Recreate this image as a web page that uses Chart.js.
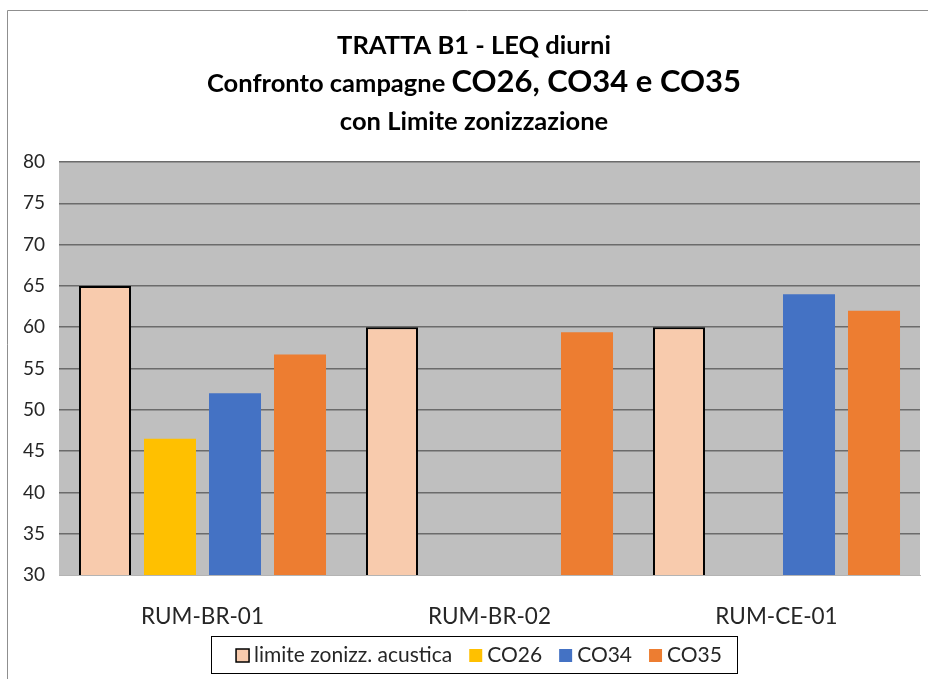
<!doctype html>
<html>
<head>
<meta charset="utf-8">
<title>TRATTA B1 - LEQ diurni</title>
<script src="https://cdn.jsdelivr.net/npm/chart.js@4/dist/chart.umd.min.js"></script>
<style>
	html, body { margin: 0; padding: 0; background: #fff; }
	#holder { width: 928px; height: 679px; position: relative; }
</style>
</head>
<body>
<div id="holder"><canvas id="chart"></canvas></div>
<script>
	// data
	const categories = ['RUM-BR-01', 'RUM-BR-02', 'RUM-CE-01'];
	const limiteZonizz = [65, 60, 60];
	const co26 = [46.5, null, null];
	const co34 = [52, null, 64];
	const co35 = [56.7, 59.4, 62];
	const yMin = 30, yMax = 80, yStep = 5;

	const titleLines = [
		[['TRATTA B1 - LEQ diurni', 25.5]],
		[['Confronto campagne ', 25.5], ['CO26, CO34 e CO35', 31]],
		[['con Limite zonizzazione', 25.5]]
	];

	const FONT = 'Lato, "Open Sans", sans-serif';
	const centerX = 474;

	const framePlugin = {
		id: 'frame',
		beforeDraw(chart) {
			const ctx = chart.ctx, a = chart.chartArea;
			ctx.save();
			ctx.fillStyle = '#bfbfbf';
			ctx.fillRect(a.left, a.top, a.right - a.left, a.bottom - a.top);
			ctx.strokeStyle = '#8f8f8f';
			ctx.lineWidth = 1;
			ctx.beginPath();
			ctx.moveTo(7.5, chart.height);
			ctx.lineTo(7.5, 10.5);
			ctx.lineTo(chart.width, 10.5);
			ctx.stroke();
			ctx.restore();
		}
	};

	const titlePlugin = {
		id: 'richTitle',
		afterDraw(chart) {
			const ctx = chart.ctx;
			const baselines = [54, 92, 130];
			ctx.save();
			ctx.fillStyle = '#000';
			ctx.textBaseline = 'alphabetic';
			ctx.textAlign = 'left';
			titleLines.forEach((segs, i) => {
				let total = 0;
				segs.forEach(([t, s]) => {
					ctx.font = 'bold ' + s + 'px ' + FONT;
					total += ctx.measureText(t).width;
				});
				let x = centerX - total / 2;
				segs.forEach(([t, s]) => {
					ctx.font = 'bold ' + s + 'px ' + FONT;
					ctx.fillText(t, x, baselines[i]);
					x += ctx.measureText(t).width;
				});
			});
			ctx.restore();
		}
	};

	const legendPlugin = {
		id: 'boxLegend',
		afterDraw(chart) {
			const ctx = chart.ctx;
			const sets = chart.data.datasets;
			const sw = 13, gap = 5, spacing = 17, cy = 655.5;
			ctx.save();
			ctx.font = '21px ' + FONT;
			const widths = sets.map(d => ctx.measureText(d.label).width);
			let total = 0;
			widths.forEach(w => total += sw + gap + w);
			total += spacing * (sets.length - 1);
			const start = centerX - total / 2 + 5;
			ctx.strokeStyle = '#000';
			ctx.lineWidth = 1;
			const left = Math.round(start - 25) + 0.5;
			ctx.strokeRect(left, 636.5, Math.round(total + 25 + 15), 37);
			let x = start;
			ctx.textBaseline = 'middle';
			sets.forEach((d, i) => {
				ctx.fillStyle = d.backgroundColor;
				ctx.fillRect(x, cy - sw / 2, sw, sw);
				if (d.borderWidth) {
					ctx.strokeStyle = '#000';
					ctx.lineWidth = 1.5;
					ctx.strokeRect(x, cy - sw / 2, sw, sw);
				}
				ctx.fillStyle = '#262626';
				ctx.fillText(d.label, x + sw + gap, cy);
				x += sw + gap + widths[i] + spacing;
			});
			ctx.restore();
		}
	};

	const config = {
		type: 'bar',
		data: {
			labels: categories,
			datasets: [
				{ label: 'limite zonizz. acustica', data: limiteZonizz, backgroundColor: '#f8cbad', borderColor: '#000', borderWidth: 2 },
				{ label: 'CO26', data: co26, backgroundColor: '#ffc000', borderWidth: 0 },
				{ label: 'CO34', data: co34, backgroundColor: '#4472c4', borderWidth: 0 },
				{ label: 'CO35', data: co35, backgroundColor: '#ed7d31', borderWidth: 0 }
			]
		},
		options: {
			responsive: true,
			maintainAspectRatio: false,
			animation: false,
			categoryPercentage: 0.906,
			barPercentage: 0.8,
			layout: { padding: { left: 12, right: 8, top: 162, bottom: 0 } },
			plugins: {
				legend: { display: false },
				title: { display: false },
				tooltip: { enabled: false }
			},
			scales: {
				x: {
					grid: { display: false },
					border: { color: '#b4b4b4', width: 1 },
					ticks: { font: { family: FONT, size: 22.5 }, color: '#262626', padding: 20 },
					afterFit(scale) { scale.height = 104; }
				},
				y: {
					min: yMin,
					max: yMax,
					ticks: { stepSize: yStep, font: { family: FONT, size: 19 }, color: '#262626', padding: 14 },
					grid: {
						color: (c) => c.tick && c.tick.value === yMin ? 'rgba(0,0,0,0)' : '#6b6b6b',
						lineWidth: 1.5,
						drawTicks: false
					},
					border: { display: false },
					afterFit(scale) { scale.width = 47; }
				}
			}
		},
		plugins: [framePlugin, titlePlugin, legendPlugin]
	};

	window.onload = function() {
		const ctx = document.getElementById('chart').getContext('2d');
		window.myChart = new Chart(ctx, config);
	};
</script>
</body>
</html>
